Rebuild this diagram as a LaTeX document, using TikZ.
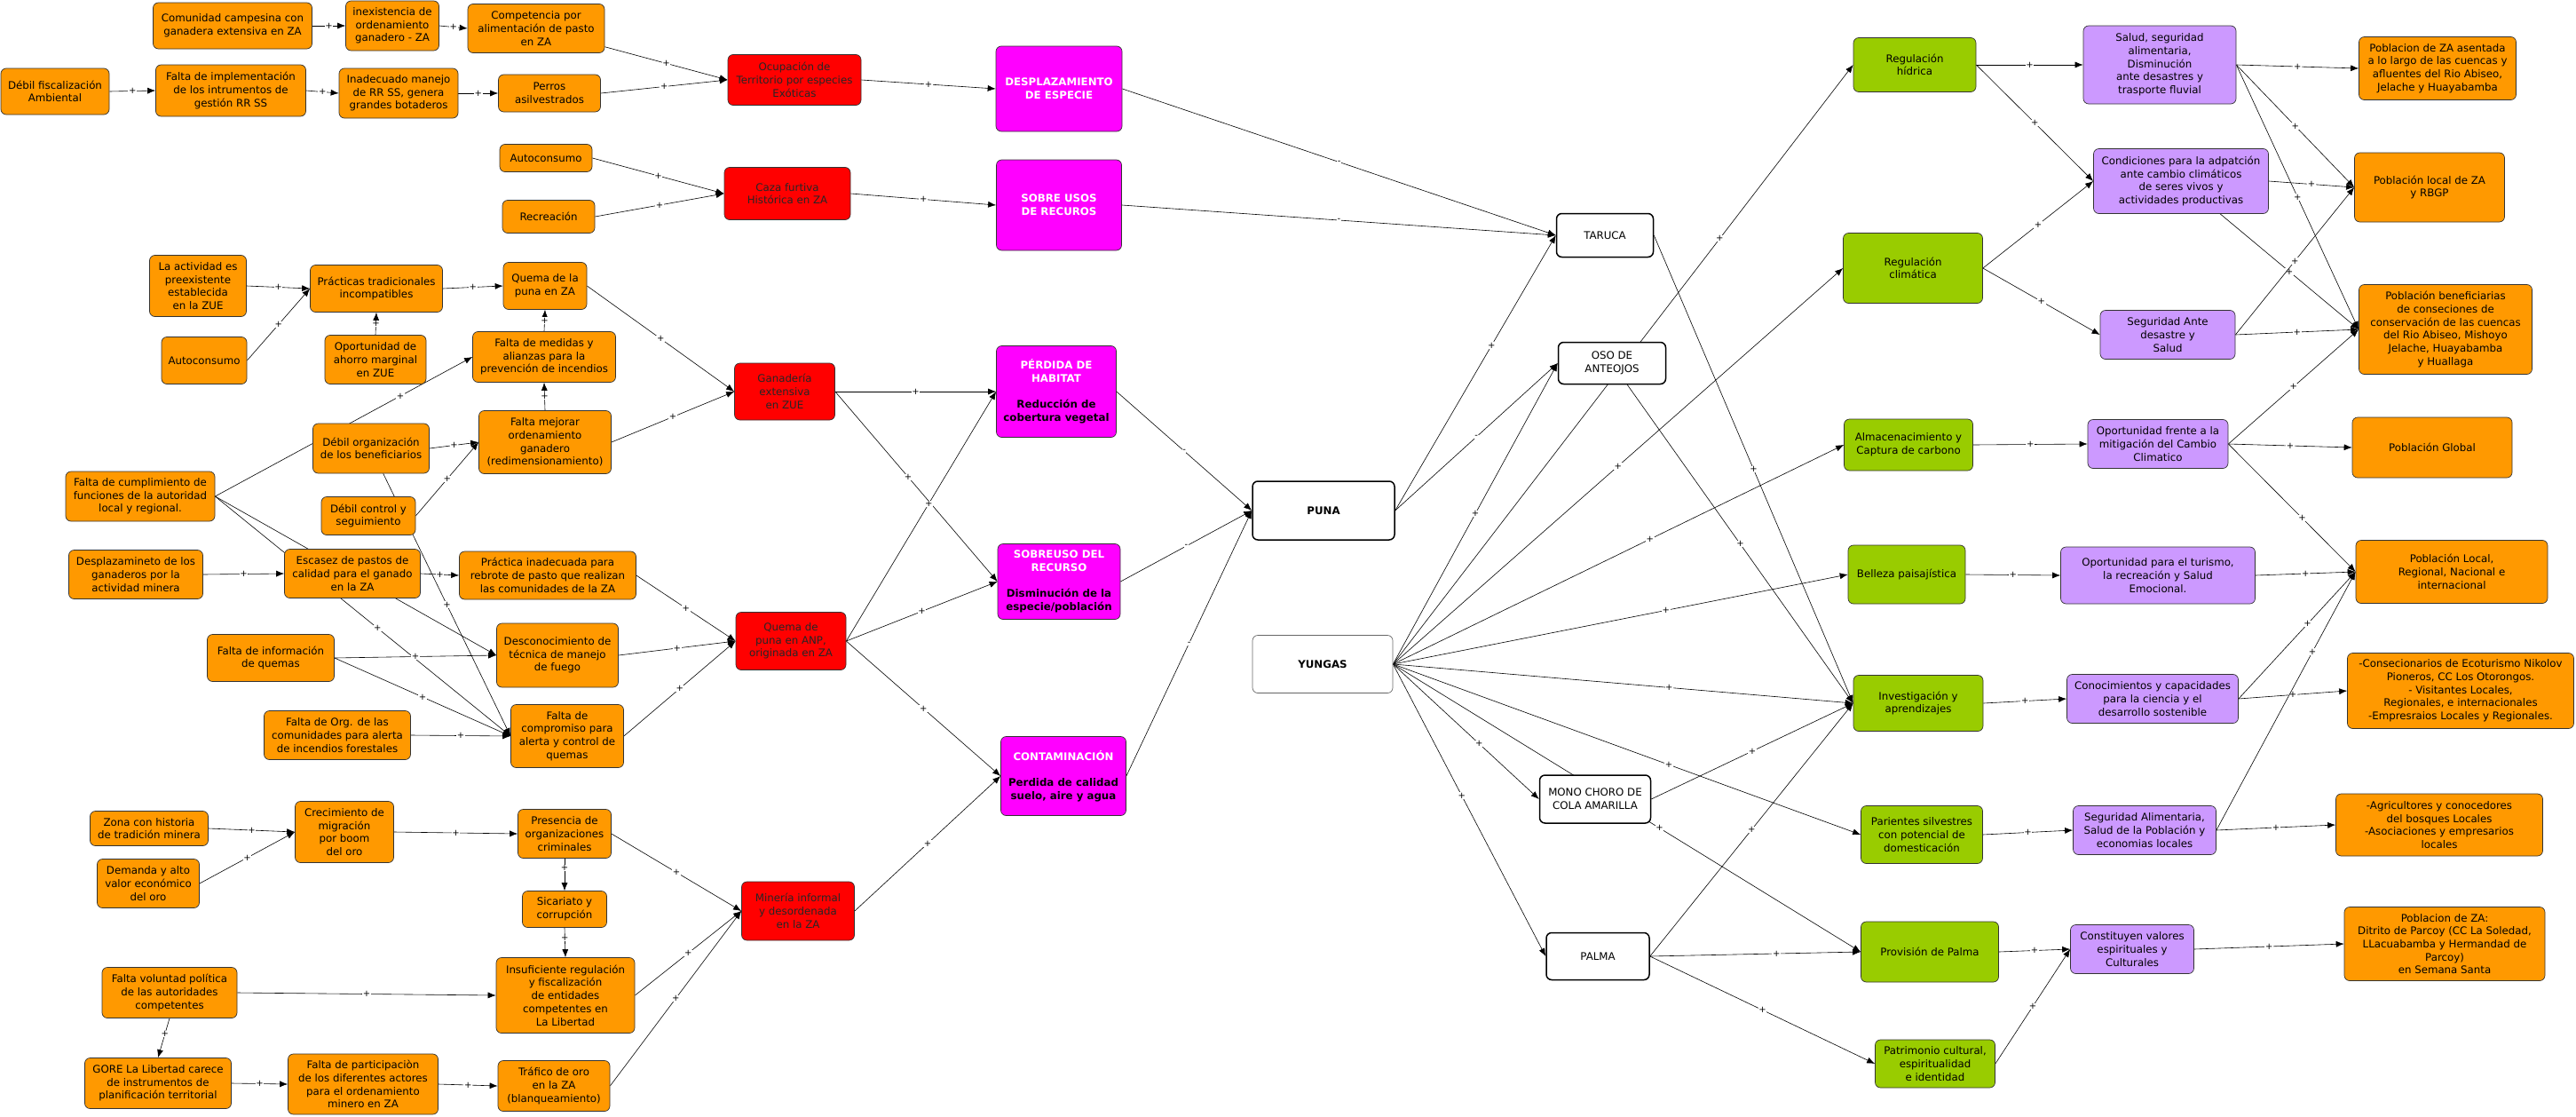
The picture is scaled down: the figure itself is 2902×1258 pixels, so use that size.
\documentclass[tikz,border=0pt]{standalone}
\usepackage{fontspec}
\setmainfont{DejaVu Sans}
\usepackage{xcolor}
\usepackage{tikz}
\usetikzlibrary{arrows.meta,backgrounds}
\definecolor{causa}{HTML}{FF9900}
\definecolor{problema}{HTML}{FF0000}
\definecolor{impacto}{HTML}{FF00FF}
\definecolor{servicio}{HTML}{99CC00}
\definecolor{beneficio}{HTML}{CC99FF}
\tikzstyle{box} = [draw=black!80, line width=0.7pt, rounded corners=6pt, align=center, inner sep=2pt, font=\fontsize{11.8}{14.7}\selectfont]
\tikzstyle{cause} = [box, fill=causa]
\tikzstyle{problem} = [box, fill=problema, text=black!85]
\tikzstyle{impact} = [box, fill=impacto, text=white, font=\fontsize{11.8}{14.7}\selectfont\bfseries]
\tikzstyle{target} = [box, fill=white, draw=black, line width=1.5pt]
\tikzstyle{service} = [box, fill=servicio]
\tikzstyle{benefit} = [box, fill=beneficio]
\tikzstyle{line} = [draw, line width=0.6pt, -{Latex[length=9pt,width=7pt]}]
\tikzstyle{sign} = [fill=white, inner sep=0.6pt, font=\fontsize{10}{10}\selectfont]
\begin{document}
\begin{tikzpicture}[x=1pt,y=-1pt]
\useasboundingbox (0,0) rectangle (2902,1258);
% causas (naranja)
\node[cause, minimum width=179, minimum height=52] (comunidad) at (262,29) {Comunidad campesina con\\ganadera extensiva en ZA};
\node[cause, minimum width=105, minimum height=56] (inexist) at (442,29) {inexistencia de\\ordenamiento\\ganadero - ZA};
\node[cause, minimum width=154, minimum height=55] (compet) at (604,32) {Competencia por\\alimentación de pasto\\en ZA};
\node[cause, minimum width=122, minimum height=52] (debfisc) at (62,103) {Débil fiscalización\\Ambiental};
\node[cause, minimum width=169, minimum height=58] (faltaimpl) at (260,102) {Falta de implementación\\de los intrumentos de\\gestión RR SS};
\node[cause, minimum width=134, minimum height=56] (inadec) at (449,105) {Inadecuado manejo\\de RR SS, genera\\grandes botaderos};
\node[cause, minimum width=115, minimum height=42] (perros) at (619,105) {Perros\\asilvestrados};
\node[cause, minimum width=104, minimum height=31] (autocons1) at (615,178) {Autoconsumo};
\node[cause, minimum width=104, minimum height=37] (recrea) at (618,244) {Recreación};
\node[cause, minimum width=109, minimum height=69] (actividad) at (223,322) {La actividad es\\preexistente\\establecida\\en la ZUE};
\node[cause, minimum width=149, minimum height=53] (practrad) at (424,325) {Prácticas tradicionales\\incompatibles};
\node[cause, minimum width=94, minimum height=53] (quemaza) at (614,322) {Quema de la\\puna en ZA};
\node[cause, minimum width=96, minimum height=53] (autocons2) at (230,406) {Autoconsumo};
\node[cause, minimum width=114, minimum height=55] (ahorro) at (423,405) {Oportunidad de\\ahorro marginal\\en ZUE};
\node[cause, minimum width=161, minimum height=57] (medidas) at (613,402) {Falta de medidas y\\alianzas para la\\prevención de incendios};
\node[cause, minimum width=131, minimum height=56] (deborg) at (418,505) {Débil organización\\de los beneficiarios};
\node[cause, minimum width=149, minimum height=71] (mejorar) at (614,498) {Falta mejorar\\ordenamiento\\ganadero\\(redimensionamiento)};
\node[cause, minimum width=168, minimum height=56] (cumpl) at (158,559) {Falta de cumplimiento de\\funciones de la autoridad\\local y regional.};
\node[cause, minimum width=106, minimum height=43] (debcontrol) at (415,581) {Débil control y\\seguimiento};
\node[cause, minimum width=151, minimum height=55] (desplgan) at (153,647) {Desplazamineto de los\\ganaderos por la\\actividad minera};
\node[cause, minimum width=153, minimum height=55] (escasez) at (397,646) {Escasez de pastos de\\calidad para el ganado\\en la ZA};
\node[cause, minimum width=199, minimum height=54] (practinad) at (617,648) {Práctica inadecuada para\\rebrote de pasto que realizan\\las comunidades de la ZA};
\node[cause, minimum width=143, minimum height=53] (infoquem) at (305,741) {Falta de información\\de quemas};
\node[cause, minimum width=137, minimum height=72] (desconoc) at (628,738) {Desconocimiento de\\técnica de manejo\\de fuego};
\node[cause, minimum width=165, minimum height=55] (orgcom) at (380,828) {Falta de Org. de las\\comunidades para alerta\\de incendios forestales};
\node[cause, minimum width=127, minimum height=71] (compromiso) at (639,829) {Falta de\\compromiso para\\alerta y control de\\quemas};
\node[cause, minimum width=133, minimum height=39] (zona) at (168,933) {Zona con historia\\de tradición minera};
\node[cause, minimum width=111, minimum height=69] (crecim) at (388,937) {Crecimiento de\\migración\\por boom\\del oro};
\node[cause, minimum width=105, minimum height=55] (presencia) at (636,939) {Presencia de\\organizaciones\\criminales};
\node[cause, minimum width=115, minimum height=55] (demanda) at (167,995) {Demanda y alto\\valor económico\\del oro};
\node[cause, minimum width=95, minimum height=41] (sicariato) at (636,1024) {Sicariato y\\corrupción};
\node[cause, minimum width=152, minimum height=57] (voluntad) at (191,1118) {Falta voluntad política\\de las autoridades\\competentes};
\node[cause, minimum width=156, minimum height=85] (insufic) at (637,1121) {Insuficiente regulación\\y fiscalización\\de entidades\\competentes en\\La Libertad};
\node[cause, minimum width=165, minimum height=57] (gore) at (178,1220) {GORE La Libertad carece\\de instrumentos de\\planificación territorial};
\node[cause, minimum width=169, minimum height=68] (particip) at (409,1221) {Falta de participaciòn\\de los diferentes actores\\para el ordenamiento\\minero en ZA};
\node[cause, minimum width=126, minimum height=57] (trafico) at (624,1223) {Tráfico de oro\\en la ZA\\(blanqueamiento)};
% problemas (rojo)
\node[problem, minimum width=150, minimum height=57] (ocupa) at (895,90) {Ocupación de\\Territorio por especies\\Exóticas};
\node[problem, minimum width=142, minimum height=59] (caza) at (887,218) {Caza furtiva\\Histórica en ZA};
\node[problem, minimum width=113, minimum height=64] (ganad) at (884,441) {Ganadería\\extensiva\\en ZUE};
\node[problem, minimum width=124, minimum height=65] (quemanp) at (891,722) {Quema de\\puna en ANP,\\originada en ZA};
\node[problem, minimum width=127, minimum height=66] (mineria) at (899,1026) {Minería informal\\y desordenada\\en la ZA};
% impactos (magenta)
\node[impact, minimum width=142, minimum height=96] (desplaz) at (1193,100) {DESPLAZAMIENTO\\DE ESPECIE};
\node[impact, minimum width=141, minimum height=102] (sobreusos) at (1193,231) {SOBRE USOS\\DE RECUROS};
\node[impact, minimum width=135, minimum height=103] (perdida) at (1190,441) {PÉRDIDA DE\\HABITAT\\[14.7pt]\textcolor{black}{Reducción de}\\\textcolor{black}{cobertura vegetal}};
\node[impact, minimum width=138, minimum height=85] (sobreuso) at (1193,655) {SOBREUSO DEL\\RECURSO\\[14.7pt]\textcolor{black}{Disminución de la}\\\textcolor{black}{especie/población}};
\node[impact, minimum width=141, minimum height=89] (contam) at (1198,874) {CONTAMINACIÓN\\[14.7pt]\textcolor{black}{Perdida de calidad}\\\textcolor{black}{suelo, aire y agua}};
% objetos de conservacion
\node[target, minimum width=109, minimum height=49] (taruca) at (1808,265) {TARUCA};
\node[target, minimum width=121, minimum height=47] (oso) at (1816,409) {OSO DE\\ANTEOJOS};
\node[target, minimum width=160, minimum height=66, font=\fontsize{11.8}{14.7}\selectfont\bfseries] (puna) at (1491,575) {PUNA};
\node[target, minimum width=158, minimum height=65, line width=0.7pt, draw=black!60, font=\fontsize{11.8}{14.7}\selectfont\bfseries] (yungas) at (1490,748) {YUNGAS};
\node[target, minimum width=125, minimum height=54] (mono) at (1797,900) {MONO CHORO DE\\COLA AMARILLA};
\node[target, minimum width=116, minimum height=53] (palma) at (1800,1077) {PALMA};
% servicios (verde)
\node[service, minimum width=138, minimum height=61] (reghid) at (2157,73) {Regulación\\hídrica};
\node[service, minimum width=157, minimum height=79] (regclim) at (2155,302) {Regulación\\climática};
\node[service, minimum width=145, minimum height=58] (almac) at (2150,501) {Almacenacimiento y\\Captura de carbono};
\node[service, minimum width=132, minimum height=66] (belleza) at (2148,647) {Belleza paisajística};
\node[service, minimum width=146, minimum height=63] (invest) at (2161,792) {Investigación y\\aprendizajes};
\node[service, minimum width=137, minimum height=65] (parientes) at (2165,940) {Parientes silvestres\\con potencial de\\domesticación};
\node[service, minimum width=155, minimum height=68] (provision) at (2174,1072) {Provisión de Palma};
\node[service, minimum width=135, minimum height=54] (patrim) at (2180,1198) {Patrimonio cultural,\\espiritualidad\\e identidad};
% beneficios (lila)
\node[benefit, minimum width=172, minimum height=88] (salud) at (2433,73) {Salud, seguridad\\alimentaria,\\Disminución\\ante desastres y\\trasporte fluvial};
\node[benefit, minimum width=197, minimum height=73] (condic) at (2457,204) {Condiciones para la adpatción\\ante cambio climáticos\\de seres vivos y\\actividades productivas};
\node[benefit, minimum width=152, minimum height=55] (segante) at (2442,377) {Seguridad Ante\\desastre y\\Salud};
\node[benefit, minimum width=158, minimum height=55] (oportcc) at (2431,500) {Oportunidad frente a la\\mitigación del  Cambio\\Climatico};
\node[benefit, minimum width=219, minimum height=64] (turismo) at (2431,648) {Oportunidad para el turismo,\\la recreación y Salud\\Emocional.};
\node[benefit, minimum width=193, minimum height=55] (conocim) at (2425,787) {Conocimientos y capacidades\\para la ciencia y el\\desarrollo sostenible};
\node[benefit, minimum width=161, minimum height=55] (segalim) at (2416,935) {Seguridad Alimentaria,\\Salud de la Población y\\economias locales};
\node[benefit, minimum width=139, minimum height=55] (valores) at (2402,1069) {Constituyen valores\\espirituales y\\Culturales};
% beneficiarios (naranja)
\node[cause, minimum width=177, minimum height=71] (pobasent) at (2746,77) {Poblacion de ZA asentada\\a lo largo de las cuencas y\\afluentes  del Rio Abiseo,\\Jelache y Huayabamba};
\node[cause, minimum width=169, minimum height=78] (poblocal) at (2737,211) {Población local  de ZA\\y RBGP};
\node[cause, minimum width=195, minimum height=101] (pobbenef) at (2755,371) {Población beneficiarias\\de conseciones de\\conservación de las cuencas\\del Rio Abiseo, Mishoyo\\Jelache, Huayabamba\\y Huallaga};
\node[cause, minimum width=180, minimum height=68] (pobglobal) at (2740,504) {Población Global};
\node[cause, minimum width=216, minimum height=71] (poblr) at (2762,644) {Población Local,\\Regional, Nacional e\\internacional};
\node[cause, minimum width=255, minimum height=85] (consec) at (2772,778) {-Consecionarios de Ecoturismo Nikolov\\Pioneros, CC Los Otorongos.\\- Visitantes Locales,\\Regionales, e internacionales\\-Empresraios Locales y Regionales.};
\node[cause, minimum width=233, minimum height=70] (agric) at (2748,929) {-Agricultores y conocedores\\del bosques Locales\\-Asociaciones y empresarios\\locales};
\node[cause, minimum width=226, minimum height=83] (parcoy) at (2754,1063) {Poblacion de ZA:\\Ditrito de Parcoy (CC La Soledad,\\LLacuabamba y Hermandad de\\Parcoy)\\en Semana Santa};
\begin{scope}[on background layer]
\fill[white] (0,0) rectangle (2902,1258);
% especies exoticas y caza
\draw[line] (comunidad.east) -- node[sign]{+} (inexist.west);
\draw[line] (inexist.east) -- node[sign]{+} (compet.west);
\draw[line] (compet) -- node[sign]{+} (ocupa.west);
\draw[line] (debfisc.east) -- node[sign]{+} (faltaimpl.west);
\draw[line] (faltaimpl.east) -- node[sign]{+} (inadec.west);
\draw[line] (inadec.east) -- node[sign]{+} (perros.west);
\draw[line] (perros.east) -- node[sign]{+} (ocupa.west);
\draw[line] (ocupa.east) -- node[sign]{+} (desplaz.west);
\draw[line] (autocons1.east) -- node[sign]{+} (caza.west);
\draw[line] (recrea.east) -- node[sign]{+} (caza.west);
\draw[line] (caza.east) -- node[sign]{+} (sobreusos.west);
% ganaderia y quemas
\draw[line] (actividad.east) -- node[sign]{+} (practrad.west);
\draw[line] (autocons2.east) -- node[sign]{+} (practrad.west);
\draw[line] (ahorro.north) -- node[sign]{+} (practrad.south);
\draw[line] (practrad.east) -- node[sign]{+} (quemaza.west);
\draw[line] (medidas.north) -- node[sign]{+} (quemaza.south);
\draw[line] (mejorar.north) -- node[sign]{+} (medidas.south);
\draw[line] (quemaza.east) -- node[sign]{+} (ganad.west);
\draw[line] (mejorar.east) -- node[sign]{+} (ganad.west);
\draw[line] (deborg.east) -- node[sign]{+} (mejorar.west);
\draw[line] (debcontrol.east) -- node[sign]{+} (mejorar.west);
\draw[line] (cumpl.east) -- node[sign, pos=0.72]{+} (medidas.west);
\draw[line] (cumpl.east) -- node[sign, pos=0.62]{+} (desconoc.west);
\draw[line] (cumpl.east) -- node[sign, pos=0.55]{+} (compromiso.west);
\draw[line] (deborg) -- node[sign]{+} (compromiso.west);
\draw[line] (desplgan.east) -- node[sign]{+} (escasez.west);
\draw[line] (escasez.east) -- node[sign]{+} (practinad.west);
\draw[line] (infoquem.east) -- node[sign]{+} (desconoc.west);
\draw[line] (infoquem.east) -- node[sign]{+} (compromiso.west);
\draw[line] (orgcom.east) -- node[sign]{+} (compromiso.west);
\draw[line] (practinad.east) -- node[sign]{+} (quemanp.west);
\draw[line] (desconoc.east) -- node[sign]{+} (quemanp.west);
\draw[line] (compromiso.east) -- node[sign]{+} (quemanp.west);
\draw[line] (ganad.east) -- node[sign]{+} (perdida.west);
\draw[line] (ganad.east) -- node[sign, pos=0.45]{+} (sobreuso.west);
\draw[line] (quemanp.east) -- node[sign, pos=0.55]{+} (perdida.west);
\draw[line] (quemanp.east) -- node[sign]{+} (sobreuso.west);
\draw[line] (quemanp.east) -- node[sign]{+} (contam.west);
% mineria
\draw[line] (zona.east) -- node[sign]{+} (crecim.west);
\draw[line] (demanda.east) -- node[sign]{+} (crecim.west);
\draw[line] (crecim.east) -- node[sign]{+} (presencia.west);
\draw[line] (presencia.south) -- node[sign, pos=0.3]{+} (sicariato.north);
\draw[line] (sicariato.south) -- node[sign, pos=0.35]{+} (insufic.north);
\draw[line] (voluntad.east) -- node[sign]{+} (insufic.west);
\draw[line] (voluntad.south) -- node[sign, pos=0.4]{+} (gore.north);
\draw[line] (gore.east) -- node[sign]{+} (particip.west);
\draw[line] (particip.east) -- node[sign]{+} (trafico.west);
\draw[line] (presencia.east) -- node[sign]{+} (mineria.west);
\draw[line] (insufic.east) -- node[sign]{+} (mineria.west);
\draw[line] (trafico.east) -- node[sign]{+} (mineria.west);
\draw[line] (mineria.east) -- node[sign]{+} (contam.west);
% impactos sobre objetos
\draw[line] (desplaz.east) -- node[sign]{-} (taruca.west);
\draw[line] (sobreusos.east) -- node[sign]{-} (taruca.west);
\draw[line] (perdida.east) -- node[sign]{-} (puna.west);
\draw[line] (sobreuso.east) -- node[sign]{-} (puna.west);
\draw[line] (contam.east) -- node[sign]{-} (puna.west);
\draw[line] (puna.east) -- node[sign, pos=0.6]{+} (taruca.west);
\draw[line] (puna.east) -- node[sign]{-} (oso.west);
% yungas
\draw[line] (yungas.east) -- node[sign]{+} (oso.west);
\draw[line] (yungas.east) -- node[sign, pos=0.71]{+} (reghid.west);
\draw[line] (yungas.east) -- node[sign]{+} (regclim.west);
\draw[line] (yungas.east) -- node[sign, pos=0.57]{+} (almac.west);
\draw[line] (yungas.east) -- node[sign, pos=0.6]{+} (belleza.west);
\draw[line] (yungas.east) -- node[sign, pos=0.6]{+} (invest.west);
\draw[line] (yungas.east) -- node[sign, pos=0.59]{+} (parientes.west);
\draw[line] (yungas.east) -- node[sign, pos=0.59]{+} (mono.west);
\draw[line] (yungas.east) -- node[sign, pos=0.57]{+} (provision.west);
\draw[line] (yungas.east) -- node[sign, pos=0.45]{+} (palma.west);
\draw[line] (taruca.east) -- node[sign]{+} (invest.west);
\draw[line] (oso) -- node[sign]{+} (invest.west);
\draw[line] (mono.east) -- node[sign]{+} (invest.west);
\draw[line] (palma.east) -- node[sign]{+} (invest.west);
\draw[line] (palma.east) -- node[sign, pos=0.6]{+} (provision.west);
\draw[line] (palma.east) -- node[sign]{+} (patrim.west);
% servicios y beneficios
\draw[line] (reghid.east) -- node[sign]{+} (salud.west);
\draw[line] (reghid.east) -- node[sign]{+} (condic.west);
\draw[line] (regclim.east) -- node[sign]{+} (condic.west);
\draw[line] (regclim.east) -- node[sign]{+} (segante.west);
\draw[line] (salud.east) -- node[sign]{+} (pobasent.west);
\draw[line] (salud.east) -- node[sign]{+} (poblocal.west);
\draw[line] (salud.east) -- node[sign]{+} (pobbenef.west);
\draw[line] (condic.east) -- node[sign]{+} (poblocal.west);
\draw[line] (condic) -- node[sign]{+} (pobbenef.west);
\draw[line] (segante.east) -- node[sign]{+} (poblocal.west);
\draw[line] (segante.east) -- node[sign]{+} (pobbenef.west);
\draw[line] (almac.east) -- node[sign]{+} (oportcc.west);
\draw[line] (oportcc.east) -- node[sign]{+} (pobbenef.west);
\draw[line] (oportcc.east) -- node[sign]{+} (pobglobal.west);
\draw[line] (oportcc.east) -- node[sign, pos=0.58]{+} (poblr.west);
\draw[line] (belleza.east) -- node[sign]{+} (turismo.west);
\draw[line] (turismo.east) -- node[sign]{+} (poblr.west);
\draw[line] (invest.east) -- node[sign]{+} (conocim.west);
\draw[line] (conocim.east) -- node[sign, pos=0.59]{+} (poblr.west);
\draw[line] (conocim.east) -- node[sign]{+} (consec.west);
\draw[line] (parientes.east) -- node[sign]{+} (segalim.west);
\draw[line] (segalim.east) -- node[sign, pos=0.69]{+} (poblr.west);
\draw[line] (segalim.east) -- node[sign]{+} (agric.west);
\draw[line] (provision.east) -- node[sign]{+} (valores.west);
\draw[line] (patrim.east) -- node[sign]{+} (valores.west);
\draw[line] (valores.east) -- node[sign]{+} (parcoy.west);
\end{scope}
\end{tikzpicture}
\end{document}
